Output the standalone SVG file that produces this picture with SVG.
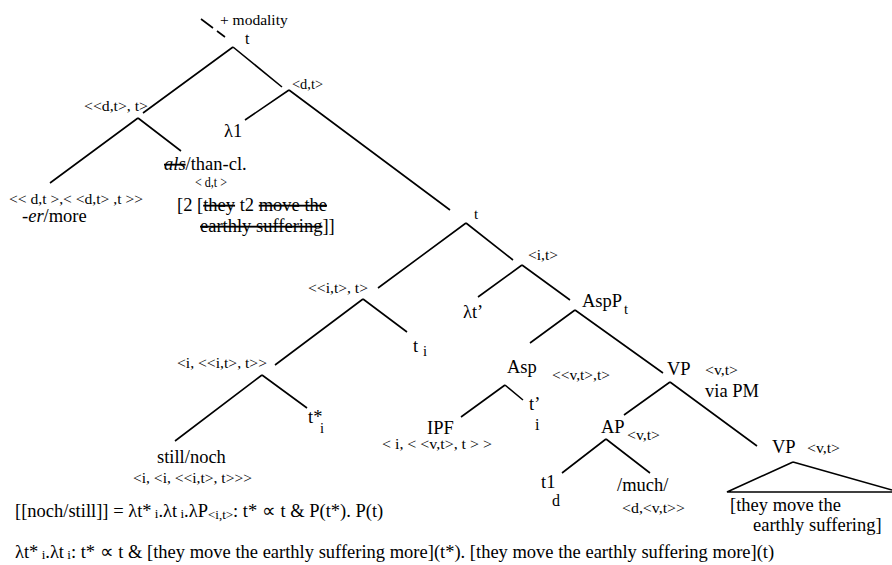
<svg xmlns="http://www.w3.org/2000/svg" width="892" height="565" viewBox="0 0 892 565">
<style>
text{font-family:"Liberation Serif","Times New Roman",serif;fill:#000;}
.m{font-size:18.5px;}
.s{font-size:14.5px;}
.sub{font-size:13px;}
.st{text-decoration:line-through;}
.it{font-style:italic;}
.e{stroke:#000;stroke-width:1.6;fill:none;stroke-linecap:butt;}
</style>
<rect width="892" height="565" fill="#fff"/>
<g id="connectors" class="e">
<path d="M201 19L213 28M217 31L225 37"/>
<path d="M233 47L143 113M233 47L282 87"/>
<path d="M138 118L50 183M138 118L181 151"/>
<path d="M289 90L245 120M289 90L450 210"/>
<path d="M466 223L378 288M466 223L513 260"/>
<path d="M363 299L275 365M363 299L407 332"/>
<path d="M262 375L175 441M262 375L307 408"/>
<path d="M522 265L478 297M522 265L570 300"/>
<path d="M575 310L530 343M575 310L663 373"/>
<path d="M505 385L461 417M505 385L523 400"/>
<path d="M670 382L624 415M670 382L757 446"/>
<path d="M606 439L562 473M606 439L650 473"/>
<path d="M793 462L727 492L892 492M793 462L892 490"/>
</g>
<g id="root">
<text x="220" y="25" style="font-size:15.5px">+ modality</text>
<text x="245" y="44" style="font-size:16px">t</text>
</g>
<g id="n-dt"><text class="s" x="292" y="89" textLength="31" lengthAdjust="spacingAndGlyphs">&lt;d,t&gt;</text></g>
<g id="n-dtt"><text class="s" x="84" y="111" textLength="64" lengthAdjust="spacingAndGlyphs">&lt;&lt;d,t&gt;, t&gt;</text></g>
<g id="n-lambda1"><text class="m" x="224" y="137">λ1</text></g>
<g id="n-als">
<text class="m" x="164" y="170"><tspan class="it st">als</tspan>/than-cl.</text>
<text class="s" x="195" y="187" textLength="32" lengthAdjust="spacingAndGlyphs">&lt; d,t &gt;</text>
<text class="m" x="177" y="211">[2 [<tspan class="st">they</tspan> t2 <tspan class="st">move the</tspan></text>
<text class="m" x="200" y="232"><tspan class="st">earthly suffering</tspan>]]</text>
</g>
<g id="n-er">
<text class="s" x="9" y="204" textLength="134" lengthAdjust="spacingAndGlyphs">&lt;&lt; d,t &gt;,&lt; &lt;d,t&gt; ,t &gt;&gt;</text>
<text class="m" x="22" y="222">-<tspan class="it">er</tspan>/more</text>
</g>
<g id="n-t"><text x="474" y="219" style="font-size:15px">t</text></g>
<g id="n-it"><text class="s" x="528" y="260" textLength="30" lengthAdjust="spacingAndGlyphs">&lt;i,t&gt;</text></g>
<g id="n-itt"><text class="s" x="308" y="293" textLength="60" lengthAdjust="spacingAndGlyphs">&lt;&lt;i,t&gt;, t&gt;</text></g>
<g id="n-lambdat"><text class="m" x="463" y="318">λt’</text></g>
<g id="n-aspp"><text class="m" x="582" y="307">AspP</text><text class="s" x="624" y="314">t</text></g>
<g id="n-ti"><text class="m" x="413" y="352">t</text><text class="s" x="423" y="356">i</text></g>
<g id="n-iitt"><text class="s" x="177" y="368" textLength="90" lengthAdjust="spacingAndGlyphs">&lt;i, &lt;&lt;i,t&gt;, t&gt;&gt;</text></g>
<g id="n-asp"><text class="m" x="507" y="373">Asp</text><text class="s" x="552" y="380" textLength="58" lengthAdjust="spacingAndGlyphs">&lt;&lt;v,t&gt;,t&gt;</text></g>
<g id="n-vp1">
<text class="m" x="667" y="375">VP</text>
<text class="s" x="705" y="375" textLength="33" lengthAdjust="spacingAndGlyphs">&lt;v,t&gt;</text>
<text class="m" x="705" y="397">via PM</text>
</g>
<g id="n-tstar"><text class="m" x="308" y="423">t*</text><text class="s" x="320" y="433">i</text></g>
<g id="n-tprime"><text class="m" x="529" y="410">t’</text><text x="535" y="430" style="font-size:16px">i</text></g>
<g id="n-ipf"><text class="m" x="427" y="434">IPF</text><text class="s" x="382" y="449" textLength="110" lengthAdjust="spacingAndGlyphs">&lt; i, &lt; &lt;v,t&gt;, t &gt; &gt;</text></g>
<g id="n-ap"><text class="m" x="601" y="433">AP</text><text class="s" x="627" y="440" textLength="33" lengthAdjust="spacingAndGlyphs">&lt;v,t&gt;</text></g>
<g id="n-t1"><text class="m" x="541" y="488">t1</text><text x="552" y="506" style="font-size:16px">d</text></g>
<g id="n-much"><text class="m" x="617" y="491">/much/</text><text class="s" x="622" y="513" textLength="63" lengthAdjust="spacingAndGlyphs">&lt;d,&lt;v,t&gt;&gt;</text></g>
<g id="n-still"><text class="m" x="157" y="463">still/noch</text><text class="s" x="133" y="483" textLength="119" lengthAdjust="spacingAndGlyphs">&lt;i, &lt;i, &lt;&lt;i,t&gt;, t&gt;&gt;&gt;</text></g>
<g id="n-vp2">
<text class="m" x="772" y="453">VP</text>
<text class="s" x="807" y="453" textLength="33" lengthAdjust="spacingAndGlyphs">&lt;v,t&gt;</text>
<text class="m" x="730" y="511">[they move the</text>
<text class="m" x="753" y="531">earthly suffering]</text>
</g>
<g id="formulas">
<text class="m" x="15" y="517">[[noch/still]] = λt*<tspan class="sub" dy="1"> i</tspan><tspan dy="-1">.λt</tspan><tspan class="sub" dy="1"> i</tspan><tspan dy="-1">.λP</tspan><tspan class="sub" dy="2">&lt;i,t&gt;</tspan><tspan dy="-2">: t* ∝ t &amp; P(t*). P(t)</tspan></text>
<text class="m" x="15" y="558">λt*<tspan class="sub" dy="1"> i</tspan><tspan dy="-1">.λt</tspan><tspan class="sub" dy="1"> i</tspan><tspan dy="-1">: t* ∝ t &amp; [they move the earthly suffering more](t*). [they move the earthly suffering more](t)</tspan></text>
</g>
</svg>
